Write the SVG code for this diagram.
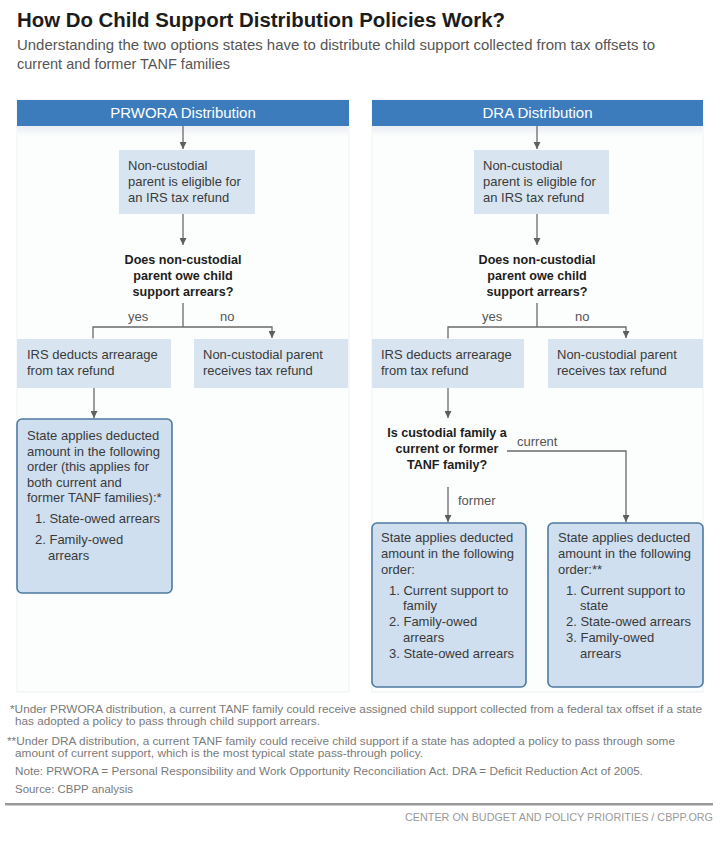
<svg xmlns="http://www.w3.org/2000/svg" width="720" height="848" viewBox="0 0 720 848">
<style>
text{font-family:"Liberation Sans",Arial,sans-serif;}
.t{font-size:13px;fill:#3a3a3a;}
.q{font-size:12.6px;font-weight:bold;fill:#1e1e1e;text-anchor:middle;}
.lbl{font-size:13px;fill:#555;}
.hdr{font-size:15px;fill:#ffffff;text-anchor:middle;}
.box{fill:#d8e5f0;}
.big{fill:#cfdff0;stroke:#4e7aa0;stroke-width:1.6;}
.bar{fill:#3c7cbc;}
.panel{fill:#fcfdfd;stroke:#edf1f5;stroke-width:1;}
.fn{font-size:10.5px;fill:#7a7a7a;}
.con{fill:none;stroke:#6a6a6a;stroke-width:1.3;}
</style>
<defs>
<marker id="ah" viewBox="0 0 8 8" refX="8" refY="4" markerWidth="7" markerHeight="7" markerUnits="userSpaceOnUse" orient="auto">
<path d="M0,0 L8,4 L0,8 z" fill="#5e5e5e"/>
</marker>
<linearGradient id="sh" x1="0" y1="0" x2="0" y2="1">
<stop offset="0" stop-color="#e9eef3"/>
<stop offset="1" stop-color="#fcfdfd"/>
</linearGradient>
</defs>
<rect width="720" height="848" fill="#ffffff"/>

<g id="title">
<text x="17" y="27" font-size="20" font-weight="bold" fill="#1c1c1c" textLength="488" lengthAdjust="spacingAndGlyphs">How Do Child Support Distribution Policies Work?</text>
<text x="17" y="50" font-size="15" fill="#555" textLength="638" lengthAdjust="spacingAndGlyphs">Understanding the two options states have to distribute child support collected from tax offsets to</text>
<text x="17" y="69" font-size="15" fill="#555" textLength="213" lengthAdjust="spacingAndGlyphs">current and former TANF families</text>
</g>

<g id="panels">
<rect class="panel" x="17" y="100" width="332" height="592"/>
<rect class="panel" x="372" y="100" width="331" height="592"/>
<rect x="17.5" y="126" width="331" height="10" fill="url(#sh)"/>
<rect x="372.5" y="126" width="330" height="10" fill="url(#sh)"/>
</g>

<g id="prwora-header">
<rect class="bar" x="17" y="100" width="332" height="26"/>
<text class="hdr" x="183" y="118">PRWORA Distribution</text>
</g>
<g id="dra-header">
<rect class="bar" x="372" y="100" width="331" height="26"/>
<text class="hdr" x="537.5" y="118">DRA Distribution</text>
</g>

<g id="connectors">
<line class="con" x1="183" y1="126" x2="183" y2="149" marker-end="url(#ah)"/>
<line class="con" x1="183" y1="214" x2="183" y2="245" marker-end="url(#ah)"/>
<line class="con" x1="183" y1="303" x2="183" y2="327"/>
<polyline class="con" points="93,338 93,327 272,327 272,338" marker-start="url(#ah)" marker-end="url(#ah)"/>
<line class="con" x1="94" y1="388" x2="94" y2="418" marker-end="url(#ah)"/>

<line class="con" x1="537" y1="126" x2="537" y2="149" marker-end="url(#ah)"/>
<line class="con" x1="537" y1="214" x2="537" y2="245" marker-end="url(#ah)"/>
<line class="con" x1="537" y1="303" x2="537" y2="327"/>
<polyline class="con" points="448,338 448,327 626,327 626,338" marker-start="url(#ah)" marker-end="url(#ah)"/>
<line class="con" x1="448" y1="388" x2="448" y2="418" marker-end="url(#ah)"/>
<line class="con" x1="448" y1="487" x2="448" y2="522" marker-end="url(#ah)"/>
<polyline class="con" points="507,451 626,451 626,522" marker-end="url(#ah)"/>
</g>

<g id="p-eligible">
<rect class="box" x="119" y="150" width="136" height="64"/>
<text class="t" x="128" y="170">Non-custodial</text>
<text class="t" x="128" y="186">parent is eligible for</text>
<text class="t" x="128" y="202">an IRS tax refund</text>
</g>
<g id="p-question">
<text class="q" x="183" y="264">Does non-custodial</text>
<text class="q" x="183" y="280">parent owe child</text>
<text class="q" x="183" y="296">support arrears?</text>
<text class="lbl" x="128" y="321">yes</text>
<text class="lbl" x="220" y="321">no</text>
</g>
<g id="p-deduct">
<rect class="box" x="17" y="339" width="154" height="49"/>
<text class="t" x="27" y="359">IRS deducts arrearage</text>
<text class="t" x="27" y="375">from tax refund</text>
</g>
<g id="p-receive">
<rect class="box" x="194" y="339" width="154" height="49"/>
<text class="t" x="203" y="359">Non-custodial parent</text>
<text class="t" x="203" y="375">receives tax refund</text>
</g>
<g id="p-state">
<rect class="big" x="17" y="419" width="155" height="174" rx="5"/>
<text class="t" x="27" y="440">State applies deducted</text>
<text class="t" x="27" y="455.5">amount in the following</text>
<text class="t" x="27" y="471">order (this applies for</text>
<text class="t" x="27" y="486.5">both current and</text>
<text class="t" x="27" y="502">former TANF families):*</text>
<text class="t" x="35" y="522.5">1. State-owed arrears</text>
<text class="t" x="35" y="543.5">2. Family-owed</text>
<text class="t" x="48" y="559.5">arrears</text>
</g>

<g id="d-eligible">
<rect class="box" x="474" y="150" width="135" height="64"/>
<text class="t" x="483" y="170">Non-custodial</text>
<text class="t" x="483" y="186">parent is eligible for</text>
<text class="t" x="483" y="202">an IRS tax refund</text>
</g>
<g id="d-question">
<text class="q" x="537" y="264">Does non-custodial</text>
<text class="q" x="537" y="280">parent owe child</text>
<text class="q" x="537" y="296">support arrears?</text>
<text class="lbl" x="482" y="321">yes</text>
<text class="lbl" x="575" y="321">no</text>
</g>
<g id="d-deduct">
<rect class="box" x="372" y="339" width="152" height="49"/>
<text class="t" x="381" y="359">IRS deducts arrearage</text>
<text class="t" x="381" y="375">from tax refund</text>
</g>
<g id="d-receive">
<rect class="box" x="548" y="339" width="155" height="49"/>
<text class="t" x="557" y="359">Non-custodial parent</text>
<text class="t" x="557" y="375">receives tax refund</text>
</g>
<g id="d-question2">
<text class="q" x="447" y="437">Is custodial family a</text>
<text class="q" x="447" y="453">current or former</text>
<text class="q" x="447" y="469">TANF family?</text>
<text class="lbl" x="517" y="446">current</text>
<text class="lbl" x="458" y="505">former</text>
</g>
<g id="d-former">
<rect class="big" x="372" y="523" width="154" height="164" rx="5"/>
<text class="t" x="381" y="541.5">State applies deducted</text>
<text class="t" x="381" y="557.5">amount in the following</text>
<text class="t" x="381" y="573.5">order:</text>
<text class="t" x="389" y="594.5">1. Current support to</text>
<text class="t" x="403" y="610">family</text>
<text class="t" x="389" y="626">2. Family-owed</text>
<text class="t" x="403" y="641.5">arrears</text>
<text class="t" x="389" y="657.5">3. State-owed arrears</text>
</g>
<g id="d-current">
<rect class="big" x="548" y="523" width="155" height="164" rx="5"/>
<text class="t" x="558" y="541.5">State applies deducted</text>
<text class="t" x="558" y="557.5">amount in the following</text>
<text class="t" x="558" y="573.5">order:**</text>
<text class="t" x="566" y="594.5">1. Current support to</text>
<text class="t" x="580" y="610">state</text>
<text class="t" x="566" y="626">2. State-owed arrears</text>
<text class="t" x="566" y="641.5">3. Family-owed</text>
<text class="t" x="580" y="657.5">arrears</text>
</g>

<g id="footnotes">
<text class="fn" x="10" y="713" textLength="692" lengthAdjust="spacingAndGlyphs">*Under PRWORA distribution, a current TANF family could receive assigned child support collected from a federal tax offset if a state</text>
<text class="fn" x="15" y="725" textLength="305" lengthAdjust="spacingAndGlyphs">has adopted a policy to pass through child support arrears.</text>
<text class="fn" x="7" y="745" textLength="668" lengthAdjust="spacingAndGlyphs">**Under DRA distribution, a current TANF family could receive child support if a state has adopted a policy to pass through some</text>
<text class="fn" x="15" y="757" textLength="408" lengthAdjust="spacingAndGlyphs">amount of current support, which is the most typical state pass-through policy.</text>
<text class="fn" x="15" y="775" textLength="628" lengthAdjust="spacingAndGlyphs">Note: PRWORA = Personal Responsibility and Work Opportunity Reconciliation Act. DRA = Deficit Reduction Act of 2005.</text>
<text class="fn" x="15" y="793" textLength="118" lengthAdjust="spacingAndGlyphs">Source: CBPP analysis</text>
<rect x="5" y="803" width="708" height="2.5" fill="#9a9a9a"/>
<text x="713" y="821" font-size="10.5" fill="#9a9a9a" text-anchor="end" textLength="308" lengthAdjust="spacingAndGlyphs">CENTER ON BUDGET AND POLICY PRIORITIES / CBPP.ORG</text>
</g>
</svg>
